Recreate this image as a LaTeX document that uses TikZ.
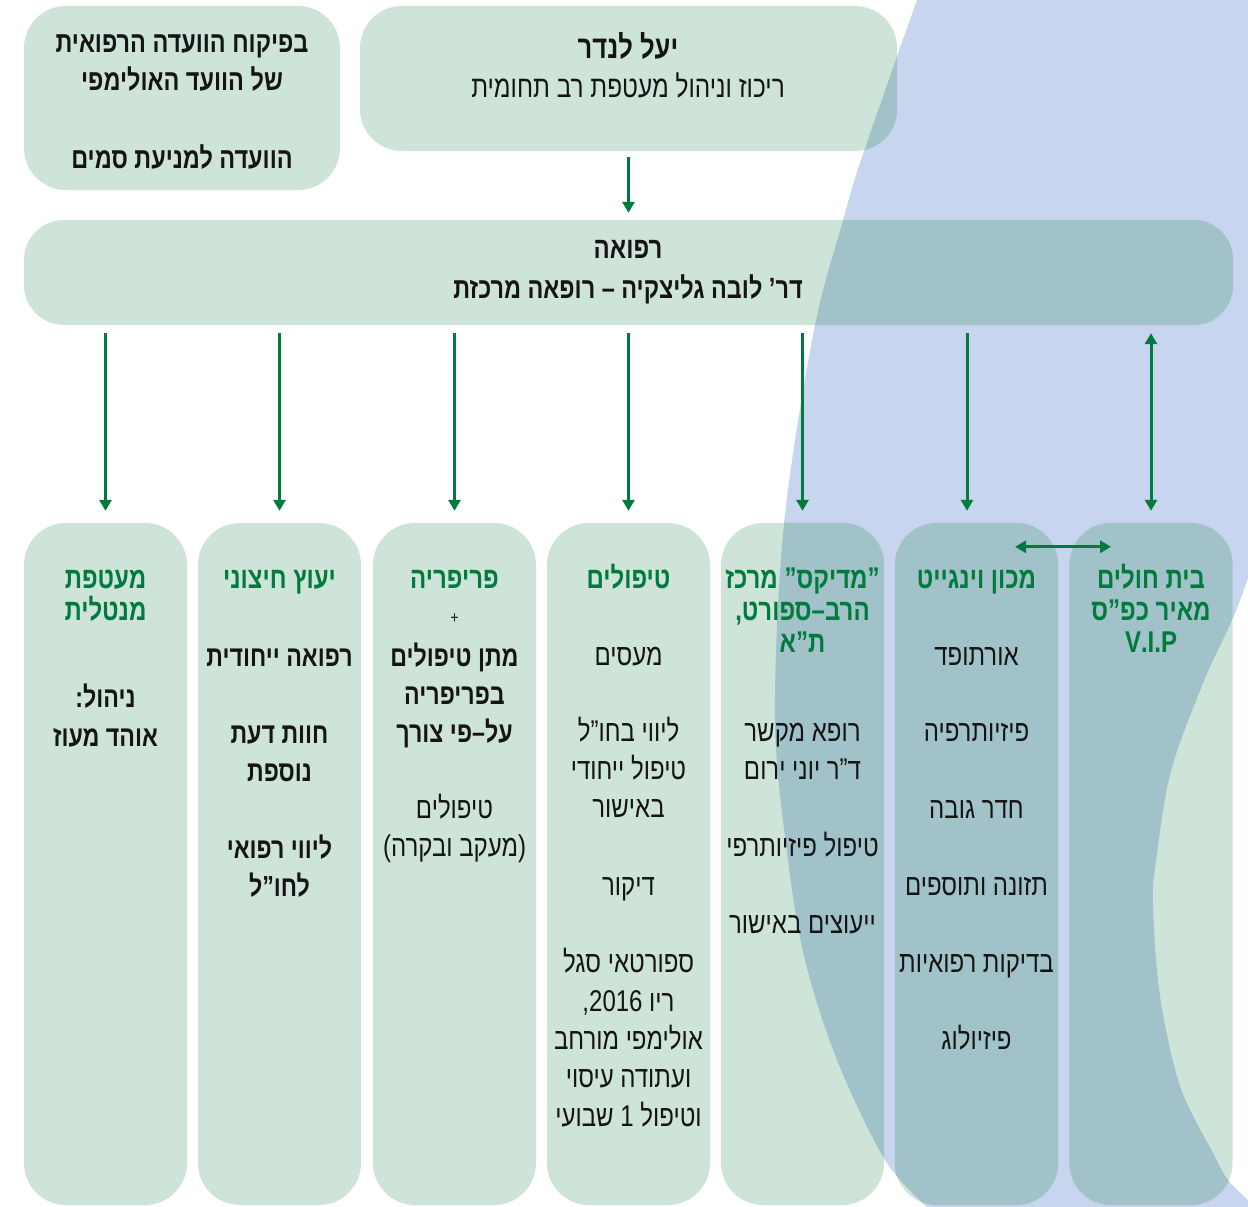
\documentclass[tikz,border=0pt]{standalone}
\usepackage{fontspec}
\setmainfont[Script=Hebrew,FakeStretch=0.8]{Liberation Sans}
\TeXXeTstate=1
\usetikzlibrary{arrows.meta}
\definecolor{boxgreen}{RGB}{207,228,216}
\definecolor{cresblue}{RGB}{199,213,238}
\definecolor{tealmix}{RGB}{161,194,201}
\definecolor{arrgreen}{RGB}{0,122,61}
\definecolor{ink}{RGB}{20,20,20}
\newcommand\rl[1]{\beginR #1\endR}
\def\crespath{plot[smooth,tension=0.55] coordinates {(917,0) (862,157) (842,224) (814,330) (784,524) (775,720) (788,860) (805,960) (837,1060) (885,1160) (927,1207)} -- (1248,1207) -- plot[smooth,tension=0.55] coordinates {(1248,1200) (1228,1180) (1213,1153) (1180,1086) (1160,996) (1153,906) (1156,861) (1171,771) (1204,681) (1233,618) (1248,578)} -- (1248,0) -- cycle}
\begin{document}
\begin{tikzpicture}[x=1pt,y=-1pt,
  box/.style={fill=boxgreen, rounded corners=42pt, inner sep=0pt},
  colbox/.style={box, minimum width=163pt, minimum height=682pt},
  arr/.style={draw=arrgreen, line width=3pt, -{Triangle[width=12pt,length=11pt]}},
  darr/.style={draw=arrgreen, line width=3pt, {Triangle[width=12pt,length=11pt]}-{Triangle[width=12pt,length=11pt]}},
  bd/.style={font=\fontsize{30}{32}\selectfont, text=ink, inner sep=0pt, text height=19pt, text depth=0pt, anchor=center},
  bb/.style={font=\fontsize{29}{32}\selectfont\bfseries, text=ink, inner sep=0pt, text height=20pt, text depth=0pt, anchor=center},
  tt/.style={font=\fontsize{30}{32}\selectfont\bfseries, text=arrgreen, inner sep=0pt, text height=21pt, text depth=0pt, anchor=center},
  hb/.style={font=\fontsize{29.3}{32}\selectfont\bfseries, text=ink, inner sep=0pt, text height=21pt, text depth=0pt, anchor=center},
  hr/.style={font=\fontsize{30.5}{32}\selectfont, text=ink, inner sep=0pt, text height=20pt, text depth=0pt, anchor=center}
]
\useasboundingbox (0,0) rectangle (1248,1207);
\fill[white] (0,0) rectangle (1248,1207);
% background crescent
\fill[cresblue] \crespath;
% boxes
\node[box, minimum width=316pt, minimum height=184pt] (TL) at (182,98) {};
\node[box, minimum width=537pt, minimum height=145pt] (TC) at (628.5,78.5) {};
\node[box, minimum width=1209pt, minimum height=105pt, rounded corners=40pt] (MED) at (628.5,272.5) {};
\node[colbox] (c1) at (105.5,864) {};
\node[colbox] (c2) at (279.5,864) {};
\node[colbox] (c3) at (454.5,864) {};
\node[colbox] (c4) at (628.5,864) {};
\node[colbox] (c5) at (802.5,864) {};
\node[colbox] (c6) at (976.5,864) {};
\node[colbox] (c7) at (1151,864) {};
% overlap of boxes and crescent
\begin{scope}
  \clip \crespath;
  \fill[tealmix, rounded corners=42pt] (TC.south west) rectangle (TC.north east);
  \fill[tealmix, rounded corners=40pt] (MED.south west) rectangle (MED.north east);
  \foreach \c in {c4,c5,c6,c7}
    \fill[tealmix, rounded corners=42pt] (\c.south west) rectangle (\c.north east);
\end{scope}
% arrows
\draw[arr, shorten <=6pt, shorten >=7pt] (TC.south) -- (MED.north);
\foreach \c in {c1,c2,c3,c4,c5}
  \draw[arr, shorten <=8pt, shorten >=12pt] (\c.north |- MED.south) -- (\c.north);
\coordinate (a6) at ([xshift=-9.5pt]c6.north);
\draw[arr, shorten <=8pt, shorten >=12pt] (a6 |- MED.south) -- (a6);
\draw[darr, shorten <=8pt, shorten >=12pt] (c7.north |- MED.south) -- (c7.north);
\coordinate (h6) at ([xshift=38.5pt,yshift=-24pt]c6.north);
\coordinate (h7) at ([xshift=-40pt,yshift=-24pt]c7.north);
\draw[darr] (h6) -- (h7);
% top-left texts
\node[hb] (tl1) at (182,42) {\rl{בפיקוח הוועדה הרפואית}};
\node[hb] (tl2) at (182,80) {\rl{של הוועד האולימפי}};
\node[hb] (tl3) at (182,158) {\rl{הוועדה למניעת סמים}};
% top-center texts
\node[hb, font=\fontsize{32}{32}\selectfont\bfseries] (tc1) at (628,48) {\rl{יעל לנדר}};
\node[hr] (tc2) at (628,88) {\rl{ריכוז וניהול מעטפת רב תחומית}};
% medicine box
\node[hb, font=\fontsize{30}{32}\selectfont\bfseries] (m1) at (628,248) {\rl{רפואה}};
\node[hb] (m2) at (628,288) {\rl{דר’ לובה גליצקיה – רופאה מרכזת}};
% column 1
\node[tt] (c1t1) at (105.5,578) {\rl{מעטפת}};
\node[tt] (c1t2) at (105.5,610) {\rl{מנטלית}};
\node[bb] (c1a) at (105.5,697) {\rl{ניהול:}};
\node[bb] (c1b) at (105.5,736) {\rl{אוהד מעוז}};
% column 2
\node[tt] (c2t1) at (279.5,578) {\rl{יעוץ חיצוני}};
\node[bb] (c2a) at (279.5,656) {\rl{רפואה ייחודית}};
\node[bb] (c2b) at (279.5,733) {\rl{חוות דעת}};
\node[bb] (c2c) at (279.5,771) {\rl{נוספת}};
\node[bb] (c2d) at (279.5,848) {\rl{ליווי רפואי}};
\node[bb] (c2e) at (279.5,886) {\rl{לחו”ל}};
% column 3
\node[tt] (c3t1) at (454.5,578) {\rl{פריפריה}};
\node[font=\fontsize{17}{18}\selectfont, text=ink, inner sep=0pt] (c3p) at (454.5,619) {+};
\node[bb] (c3a) at (454.5,656) {\rl{מתן טיפולים}};
\node[bb] (c3b) at (454.5,694) {\rl{בפריפריה}};
\node[bb] (c3c) at (454.5,732) {\rl{על–פי צורך}};
\node[bd] (c3d) at (454.5,809) {\rl{טיפולים}};
\node[bd] (c3e) at (454.5,847) {\rl{(מעקב ובקרה)}};
% column 4
\node[tt] (c4t1) at (628.5,578) {\rl{טיפולים}};
\node[bd] (c4a) at (628.5,656) {\rl{מעסים}};
\node[bd] (c4b) at (628.5,732) {\rl{ליווי בחו”ל}};
\node[bd] (c4c) at (628.5,770) {\rl{טיפול ייחודי}};
\node[bd] (c4d) at (628.5,808) {\rl{באישור}};
\node[bd] (c4e) at (628.5,886) {\rl{דיקור}};
\node[bd] (c4f) at (628.5,963) {\rl{ספורטאי סגל}};
\node[bd] (c4g) at (628.5,1002) {\rl{ריו \beginL2016\endL,}};
\node[bd] (c4h) at (628.5,1040) {\rl{אולימפי מורחב}};
\node[bd] (c4i) at (628.5,1078) {\rl{ועתודה עיסוי}};
\node[bd] (c4j) at (628.5,1117) {\rl{וטיפול 1 שבועי}};
% column 5
\node[tt] (c5t1) at (802.5,578) {\rl{”מדיקס” מרכז}};
\node[tt] (c5t2) at (802.5,610) {\rl{הרב–ספורט,}};
\node[tt] (c5t3) at (802.5,642) {\rl{ת”א}};
\node[bd] (c5a) at (802.5,732) {\rl{רופא מקשר}};
\node[bd] (c5b) at (802.5,770) {\rl{ד”ר יוני ירום}};
\node[bd] (c5c) at (802.5,847) {\rl{טיפול פיזיותרפי}};
\node[bd] (c5d) at (802.5,924) {\rl{ייעוצים באישור}};
% column 6
\node[tt] (c6t1) at (976.5,578) {\rl{מכון וינגייט}};
\node[bd] (c6a) at (976.5,656) {\rl{אורתופד}};
\node[bd] (c6b) at (976.5,732) {\rl{פיזיותרפיה}};
\node[bd] (c6c) at (976.5,809) {\rl{חדר גובה}};
\node[bd] (c6d) at (976.5,886) {\rl{תזונה ותוספים}};
\node[bd] (c6e) at (976.5,963) {\rl{בדיקות רפואיות}};
\node[bd] (c6f) at (976.5,1040) {\rl{פיזיולוג}};
% column 7
\node[tt] (c7t1) at (1151,578) {\rl{בית חולים}};
\node[tt] (c7t2) at (1151,610) {\rl{מאיר כפ”ס}};
\node[tt] (c7t3) at (1151,642) {V.I.P};
\end{tikzpicture}
\end{document}
